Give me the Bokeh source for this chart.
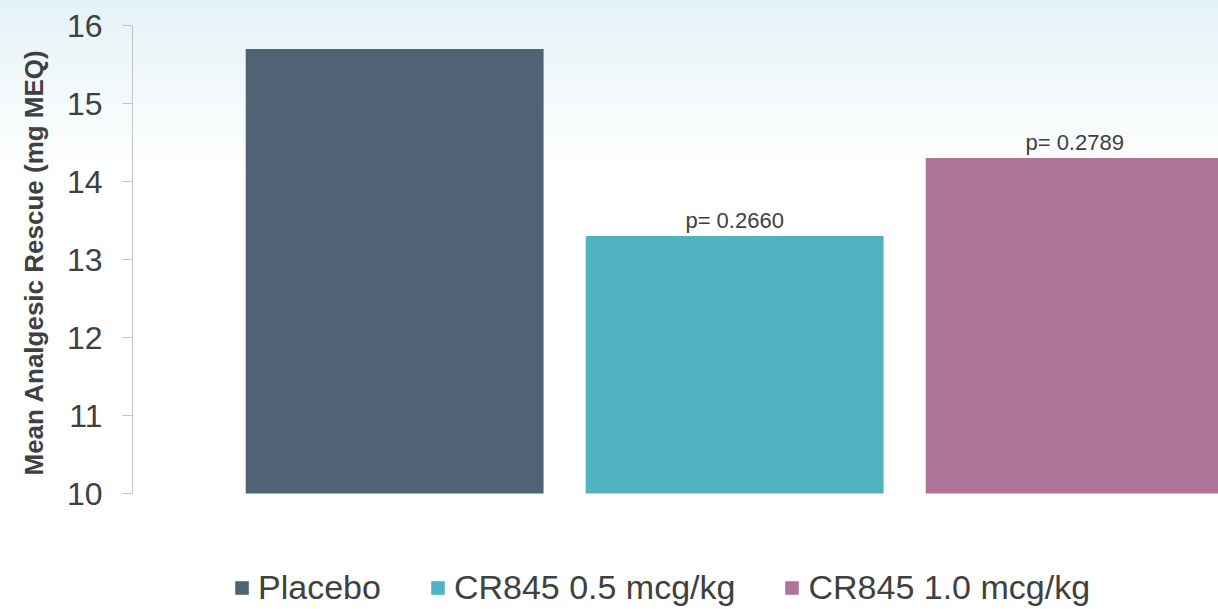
from bokeh.plotting import figure
from bokeh.models import Range1d, FixedTicker, Legend, LegendItem, ColumnDataSource, Title
from bokeh.core.properties import value
from bokeh.embed import file_html
from bokeh.resources import INLINE

# ---- data ----
groups = ["Placebo", "CR845 0.5 mcg/kg", "CR845 1.0 mcg/kg"]
means = [15.7, 13.3, 14.3]
p_labels = ["", "p= 0.2660", "p= 0.2789"]
colors = ["#506374", "#4fb3c1", "#b07399"]
y_ticks = [10, 11, 12, 13, 14, 15, 16]
y_label = "Mean Analgesic Rescue (mg MEQ)"

FONT = "Liberation Sans"
TXT = "#404040"

xs = list(range(len(groups)))

# frame reaches the bottom of the page so the legend can sit inside it;
# the y axis itself is bounded to 10..16
p = figure(width=1218, height=609, output_backend="svg", toolbar_location=None,
           x_range=Range1d(-0.771, 2.423), y_range=Range1d(8.513, y_ticks[-1]),
           min_border_left=132, min_border_right=0, min_border_top=25, min_border_bottom=0,
           styles={"background": "linear-gradient(to bottom, #e4f2f6 0px, #ffffff 170px)"})
p.background_fill_alpha = 0
p.border_fill_alpha = 0
p.outline_line_color = None
p.xgrid.visible = False
p.ygrid.visible = False
p.xaxis.visible = False

ax = p.yaxis[0]
ax.bounds = (y_ticks[0], y_ticks[-1])
ax.ticker = FixedTicker(ticks=y_ticks)
ax.axis_line_color = "#c4c4c4"
ax.major_tick_line_color = "#c4c4c4"
ax.major_tick_out = 10
ax.major_tick_in = 0
ax.minor_tick_line_color = None
ax.major_label_text_font = FONT
ax.major_label_text_font_size = "32px"
ax.major_label_text_color = TXT
ax.major_label_standoff = 20

# y-axis title placed along the bounded axis span
ytitle = Title(text=y_label, align="left", offset=134, standoff=26,
               vertical_align="top",
               text_font=FONT, text_font_size="26px", text_font_style="bold",
               text_color=TXT)
p.add_layout(ytitle, "left")

items = []
for i, (g, m, c) in enumerate(zip(groups, means, colors)):
    src = ColumnDataSource(dict(x=[xs[i]], top=[m]))
    r = p.vbar(x="x", top="top", bottom=y_ticks[0], width=0.876, source=src,
               fill_color=c, line_color=None)
    items.append(LegendItem(label=g, renderers=[r]))

lab_src = ColumnDataSource(dict(x=xs[1:], y=means[1:], t=p_labels[1:]))
p.text(x="x", y="y", text="t", source=lab_src, text_align="center",
       text_baseline="bottom", y_offset=-3, text_font=value(FONT),
       text_font_size="22px", text_color=TXT)

legend = Legend(items=items, orientation="horizontal", location=(101, 2),
                padding=0, margin=0, spacing=48, label_standoff=8,
                glyph_width=17, glyph_height=17,
                label_text_font=FONT, label_text_font_size="34px",
                label_text_color=TXT, border_line_color=None,
                background_fill_alpha=0)
p.add_layout(legend, "center")

open("out.html", "w").write(file_html(p, INLINE))
